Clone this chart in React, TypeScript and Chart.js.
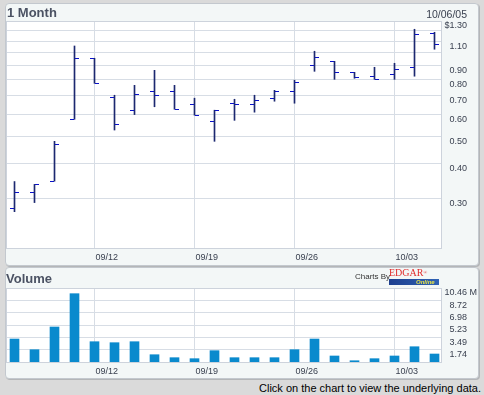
import React, { useEffect, useRef } from 'react';
import { Chart, registerables } from 'chart.js';

Chart.register(...registerables);

// ---------- data ----------
const dates = ['09/06', '09/07', '09/08', '09/09', '09/12', '09/13', '09/14', '09/15', '09/16', '09/19', '09/20', '09/21', '09/22', '09/23', '09/26', '09/27', '09/28', '09/29', '09/30', '10/03', '10/04', '10/05'];
const openP = [0.276, 0.315, 0.345, 0.576, 0.955, 0.691, 0.622, 0.727, 0.727, 0.652, 0.567, 0.658, 0.652, 0.686, 0.727, 0.901, 0.931, 0.850, 0.823, 0.836, 0.886, 1.174];
const highP = [0.344, 0.336, 0.480, 1.057, 0.955, 0.703, 0.763, 0.864, 0.763, 0.686, 0.621, 0.680, 0.703, 0.732, 0.796, 1.012, 0.931, 0.850, 0.886, 0.916, 1.214, 1.184];
const lowP = [0.268, 0.289, 0.345, 0.576, 0.776, 0.527, 0.599, 0.639, 0.626, 0.596, 0.480, 0.571, 0.611, 0.669, 0.658, 0.857, 0.802, 0.809, 0.802, 0.802, 0.823, 1.029];
const closeP = [0.315, 0.336, 0.468, 0.955, 0.776, 0.553, 0.709, 0.703, 0.626, 0.596, 0.621, 0.652, 0.674, 0.727, 0.783, 0.963, 0.852, 0.816, 0.802, 0.872, 1.165, 1.072];
const volumeM = [3.25, 1.74, 4.95, 9.66, 2.87, 2.73, 2.87, 1.03, 0.61, 0.47, 1.60, 0.61, 0.61, 0.61, 1.74, 3.25, 0.85, 0.18, 0.47, 0.85, 2.16, 1.13];

const dateTickIdx = [4, 9, 14, 19];
const priceTicks = [0.3, 0.4, 0.5, 0.6, 0.7, 0.8, 0.9, 1.0, 1.1, 1.2, 1.3];
const priceTickLabels = ['0.30', '0.40', '0.50', '0.60', '0.70', '0.80', '0.90', '', '1.10', '', '$1.30'];
const priceMin = 0.1984;
const priceMax = 1.3;
const volumeTicks = [1.744, 3.488, 5.232, 6.976, 8.72, 10.464];
const volumeTickLabels = ['1.74', '3.49', '5.23', '6.98', '8.72', '10.46'];
const volumeMax = 10.464;
const xMin = -0.425;
const xMax = 21.325;

// ---------- styles ----------
const FONT_FAMILY = '"Liberation Sans", Arial, sans-serif';
const GRID = '#d7dde5';
const FRAME = '#cdd3dc';
const TICK_TEXT = '#3a4150';
const HL_COLOR = '#1c2870';
const OC_COLOR = '#0a12c8';
const VOL_COLOR = '#0a8acd';

function makeTick(side: 'left' | 'right') {
  const c = document.createElement('canvas');
  c.width = 9;
  c.height = 1;
  const g = c.getContext('2d') as CanvasRenderingContext2D;
  g.fillStyle = OC_COLOR;
  g.fillRect(side === 'left' ? 0 : 5, 0, 4, 1);
  return c;
}

const plotFrame = {
  id: 'plotFrame',
  beforeDraw(chart: any) {
    const { ctx, chartArea: a } = chart;
    ctx.save();
    ctx.fillStyle = '#ffffff';
    ctx.fillRect(a.left, a.top, a.right - a.left, a.bottom - a.top);
    ctx.restore();
  },
  beforeDatasetsDraw(chart: any) {
    const { ctx, chartArea: a } = chart;
    ctx.save();
    ctx.strokeStyle = FRAME;
    ctx.lineWidth = 1;
    ctx.strokeRect(Math.round(a.left) + 0.5, Math.round(a.top) + 0.5, Math.round(a.right - a.left), Math.round(a.bottom - a.top));
    ctx.restore();
  },
};

const tickFont = { family: FONT_FAMILY, size: 9 };

function xScale(height: number) {
  return {
    type: 'linear',
    min: xMin,
    max: xMax,
    offset: false,
    afterBuildTicks: (s: any) => {
      s.ticks = dateTickIdx.map((v) => ({ value: v }));
    },
    afterFit: (s: any) => {
      s.height = height;
    },
    grid: { color: GRID, drawTicks: false, offset: false },
    border: { display: false },
    ticks: {
      align: 'start',
      labelOffset: 1,
      padding: 4,
      maxRotation: 0,
      autoSkip: false,
      font: tickFont,
      color: TICK_TEXT,
      callback: (v: number) => dates[Math.round(v)],
    },
  };
}

function yTicks(labels: string[]) {
  return {
    autoSkip: false,
    labelOffset: 5,
    crossAlign: 'far',
    padding: 2,
    font: tickFont,
    color: TICK_TEXT,
    callback: (_v: any, i: number) => labels[i],
  };
}

export default function App() {
  const priceRef = useRef<HTMLCanvasElement>(null);
  const volRef = useRef<HTMLCanvasElement>(null);

  useEffect(() => {
    const idx = dates.map((_, i) => i);

    const price = new Chart(priceRef.current as HTMLCanvasElement, {
      type: 'bar',
      data: {
        datasets: [
          {
            type: 'bar',
            data: idx.map((i) => ({ x: i, y: [lowP[i], highP[i]] })) as any,
            backgroundColor: HL_COLOR,
            borderWidth: 0,
            barThickness: 1,
            order: 2,
          } as any,
          {
            type: 'line',
            data: idx.map((i) => ({ x: i, y: openP[i] })),
            showLine: false,
            pointStyle: makeTick('left'),
            pointRadius: 4,
            order: 1,
          } as any,
          {
            type: 'line',
            data: idx.map((i) => ({ x: i, y: closeP[i] })),
            showLine: false,
            pointStyle: makeTick('right'),
            pointRadius: 4,
            order: 1,
          } as any,
        ],
      },
      options: {
        responsive: false,
        animation: false,
        events: [],
        layout: { padding: { left: 6, top: 21, right: 17, bottom: 0 } },
        plugins: { legend: { display: false }, tooltip: { enabled: false } },
        scales: {
          x: xScale(18) as any,
          y: {
            type: 'logarithmic',
            position: 'right',
            min: priceMin,
            max: priceMax,
            afterBuildTicks: (s: any) => {
              s.ticks = priceTicks.map((v) => ({ value: v }));
            },
            afterFit: (s: any) => {
              s.width = 26;
            },
            grid: { color: GRID, drawTicks: false },
            border: { display: false },
            ticks: yTicks(priceTickLabels),
          } as any,
        },
      },
      plugins: [plotFrame],
    });

    const vol = new Chart(volRef.current as HTMLCanvasElement, {
      type: 'bar',
      data: {
        datasets: [
          {
            data: idx.map((i) => ({ x: i, y: volumeM[i] })) as any,
            backgroundColor: VOL_COLOR,
            borderWidth: 0,
            barThickness: 9,
          },
        ],
      },
      options: {
        responsive: false,
        animation: false,
        events: [],
        layout: { padding: { left: 6, top: 22, right: 17, bottom: 0 } },
        plugins: { legend: { display: false }, tooltip: { enabled: false } },
        scales: {
          x: xScale(14) as any,
          y: {
            type: 'linear',
            position: 'right',
            min: 0,
            max: volumeMax,
            afterBuildTicks: (s: any) => {
              s.ticks = volumeTicks.map((v) => ({ value: v }));
            },
            afterFit: (s: any) => {
              s.width = 26;
            },
            grid: { color: GRID, drawTicks: false },
            border: { display: false },
            ticks: yTicks(volumeTickLabels),
          } as any,
        },
      },
      plugins: [plotFrame],
    });

    return () => {
      price.destroy();
      vol.destroy();
    };
  }, []);

  const panel: React.CSSProperties = {
    position: 'absolute',
    left: 5,
    width: 472,
    background: '#f3f7f7',
    border: '1px solid #c3c8ce',
    borderRadius: 4,
    boxShadow: '1px 1px 0 #b4b6b8',
  };
  const abs: React.CSSProperties = { position: 'absolute', whiteSpace: 'nowrap', margin: 0 };

  return (
    <div
      style={{
        position: 'fixed',
        left: 0,
        top: 0,
        width: 484,
        height: 395,
        background: '#dadada',
        overflow: 'hidden',
        fontFamily: FONT_FAMILY,
      }}
    >
      <div style={{ ...panel, top: 3, height: 261 }} />
      <div style={{ ...panel, top: 267, height: 110 }} />
      <canvas ref={priceRef} width={484} height={266} style={{ position: 'absolute', left: 0, top: 0, width: 484, height: 266 }} />
      <canvas ref={volRef} width={484} height={110} style={{ position: 'absolute', left: 0, top: 266, width: 484, height: 110 }} />

      <div style={{ ...abs, left: 7, top: 5.5, fontSize: 13, lineHeight: '13px', fontWeight: 'bold', color: '#4b5263' }}>1 Month</div>
      <div style={{ ...abs, right: 17, top: 8.5, fontSize: 10.5, lineHeight: '10.5px', color: '#3a4150' }}>10/06/05</div>
      <div style={{ ...abs, left: 6, top: 271.5, fontSize: 13, lineHeight: '13px', fontWeight: 'bold', color: '#4b5263' }}>Volume</div>
      <div style={{ ...abs, left: 469.5, top: 288.3, fontSize: 9, lineHeight: '9px', color: TICK_TEXT }}>M</div>

      <div style={{ ...abs, left: 355, top: 272.5, fontSize: 8, lineHeight: '8px', color: '#333333' }}>Charts By</div>
      <div style={{ ...abs, left: 389, top: 279, width: 50, height: 6, background: 'linear-gradient(90deg, #1d3f8f, #2f62b4)' }} />
      <div style={{ ...abs, left: 389, top: 268.3, fontSize: 10, lineHeight: '10px', fontFamily: '"Liberation Serif", "Times New Roman", serif', color: '#e02b2b' }}>
        EDGAR<span style={{ fontSize: 5, verticalAlign: 'top' }}>®</span>
      </div>
      <div style={{ ...abs, left: 416, top: 279, fontSize: 6, lineHeight: '6px', fontWeight: 'bold', fontStyle: 'italic', color: '#e6e34a' }}>Online</div>

      <div style={{ ...abs, right: 3, top: 382.6, fontSize: 11, lineHeight: '11px', color: '#000000' }}>
        Click on the chart to view the underlying data.
      </div>
    </div>
  );
}
